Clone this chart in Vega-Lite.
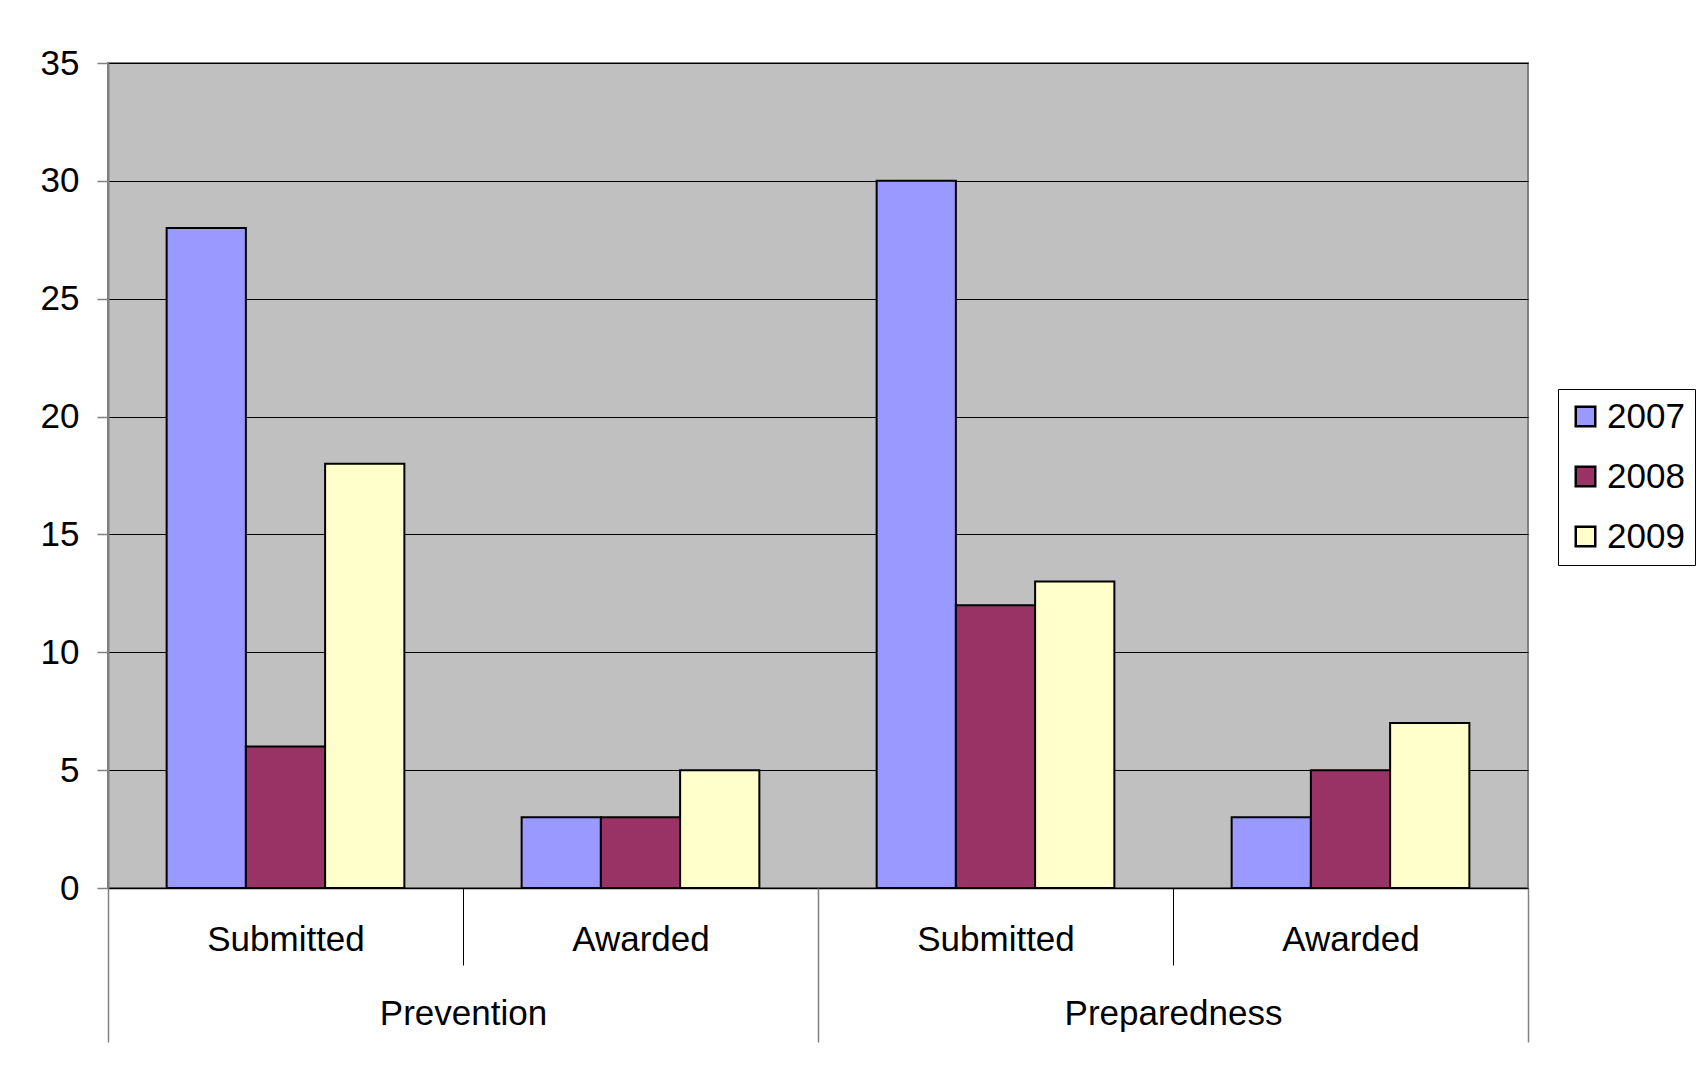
{
  "$schema": "https://vega.github.io/schema/vega-lite/v6.json",
  "width": 1420,
  "height": 825,
  "autosize": {"type": "none"},
  "padding": {"left": 108, "top": 63, "right": 174, "bottom": 187},
  "background": "white",
  "config": {
    "font": "Liberation Sans",
    "view": {"fill": "#C0C0C0", "stroke": "#808080", "strokeWidth": 2}
  },
  "layer": [
    {
      "data": {
        "values": [
          {"group": "Prevention|Submitted", "year": "2007", "value": 28},
          {"group": "Prevention|Submitted", "year": "2008", "value": 6},
          {"group": "Prevention|Submitted", "year": "2009", "value": 18},
          {"group": "Prevention|Awarded", "year": "2007", "value": 3},
          {"group": "Prevention|Awarded", "year": "2008", "value": 3},
          {"group": "Prevention|Awarded", "year": "2009", "value": 5},
          {"group": "Preparedness|Submitted", "year": "2007", "value": 30},
          {"group": "Preparedness|Submitted", "year": "2008", "value": 12},
          {"group": "Preparedness|Submitted", "year": "2009", "value": 13},
          {"group": "Preparedness|Awarded", "year": "2007", "value": 3},
          {"group": "Preparedness|Awarded", "year": "2008", "value": 5},
          {"group": "Preparedness|Awarded", "year": "2009", "value": 7}
        ]
      },
      "mark": {"type": "bar", "stroke": "black", "strokeWidth": 2},
      "encoding": {
        "x": {
          "field": "group",
          "type": "nominal",
          "sort": null,
          "scale": {"paddingInner": 0, "paddingOuter": 0},
          "axis": {
            "title": null,
            "labelExpr": "split(datum.label, '|')[1]",
            "labelAngle": 0,
            "labelLimit": 0,
            "tickBand": "extent",
            "tickSize": 77,
            "tickColor": "black",
            "tickWidth": 1,
            "domainColor": "black",
            "domainWidth": 1.5,
            "labelFontSize": 35,
            "labelColor": "black",
            "labelBaseline": "middle",
            "labelPadding": -26
          }
        },
        "xOffset": {
          "field": "year",
          "type": "nominal",
          "scale": {"paddingInner": 0, "paddingOuter": 0.74}
        },
        "y": {
          "field": "value",
          "type": "quantitative",
          "scale": {"domain": [0, 35], "nice": false},
          "axis": {
            "title": null,
            "values": [0, 5, 10, 15, 20, 25, 30, 35],
            "grid": true,
            "gridColor": "black",
            "gridWidth": 1,
            "gridOpacity": 1,
            "tickSize": 11,
            "tickColor": "#808080",
            "tickWidth": 1.5,
            "domainColor": "#808080",
            "domainWidth": 2,
            "labelFontSize": 35,
            "labelColor": "black",
            "labelPadding": 18
          }
        },
        "color": {
          "field": "year",
          "type": "nominal",
          "scale": {
            "domain": ["2007", "2008", "2009"],
            "range": ["#9999FF", "#993366", "#FFFFCC"]
          },
          "legend": {
            "title": null,
            "orient": "none",
            "legendX": 1450,
            "legendY": 326,
            "strokeColor": "black",
            "fillColor": "white",
            "padding": 10,
            "symbolType": "square",
            "symbolSize": 380,
            "symbolStrokeColor": "black",
            "symbolStrokeWidth": 2.5,
            "labelFontSize": 35,
            "labelColor": "black",
            "labelOffset": 4,
            "rowPadding": 24
          }
        }
      }
    },
    {
      "data": {
        "values": [
          {"main": "Prevention"},
          {"main": "Preparedness"}
        ]
      },
      "mark": {"type": "bar", "opacity": 0},
      "encoding": {
        "x": {
          "field": "main",
          "type": "nominal",
          "sort": null,
          "scale": {"paddingInner": 0, "paddingOuter": 0},
          "axis": {
            "orient": "bottom",
            "title": null,
            "labelAngle": 0,
            "labelLimit": 0,
            "tickBand": "extent",
            "tickSize": 154,
            "tickColor": "#808080",
            "tickWidth": 1.5,
            "domain": false,
            "labelFontSize": 35,
            "labelColor": "black",
            "labelBaseline": "middle",
            "labelPadding": -29
          }
        }
      }
    }
  ],
  "resolve": {"scale": {"x": "independent"}, "axis": {"x": "independent"}}
}
